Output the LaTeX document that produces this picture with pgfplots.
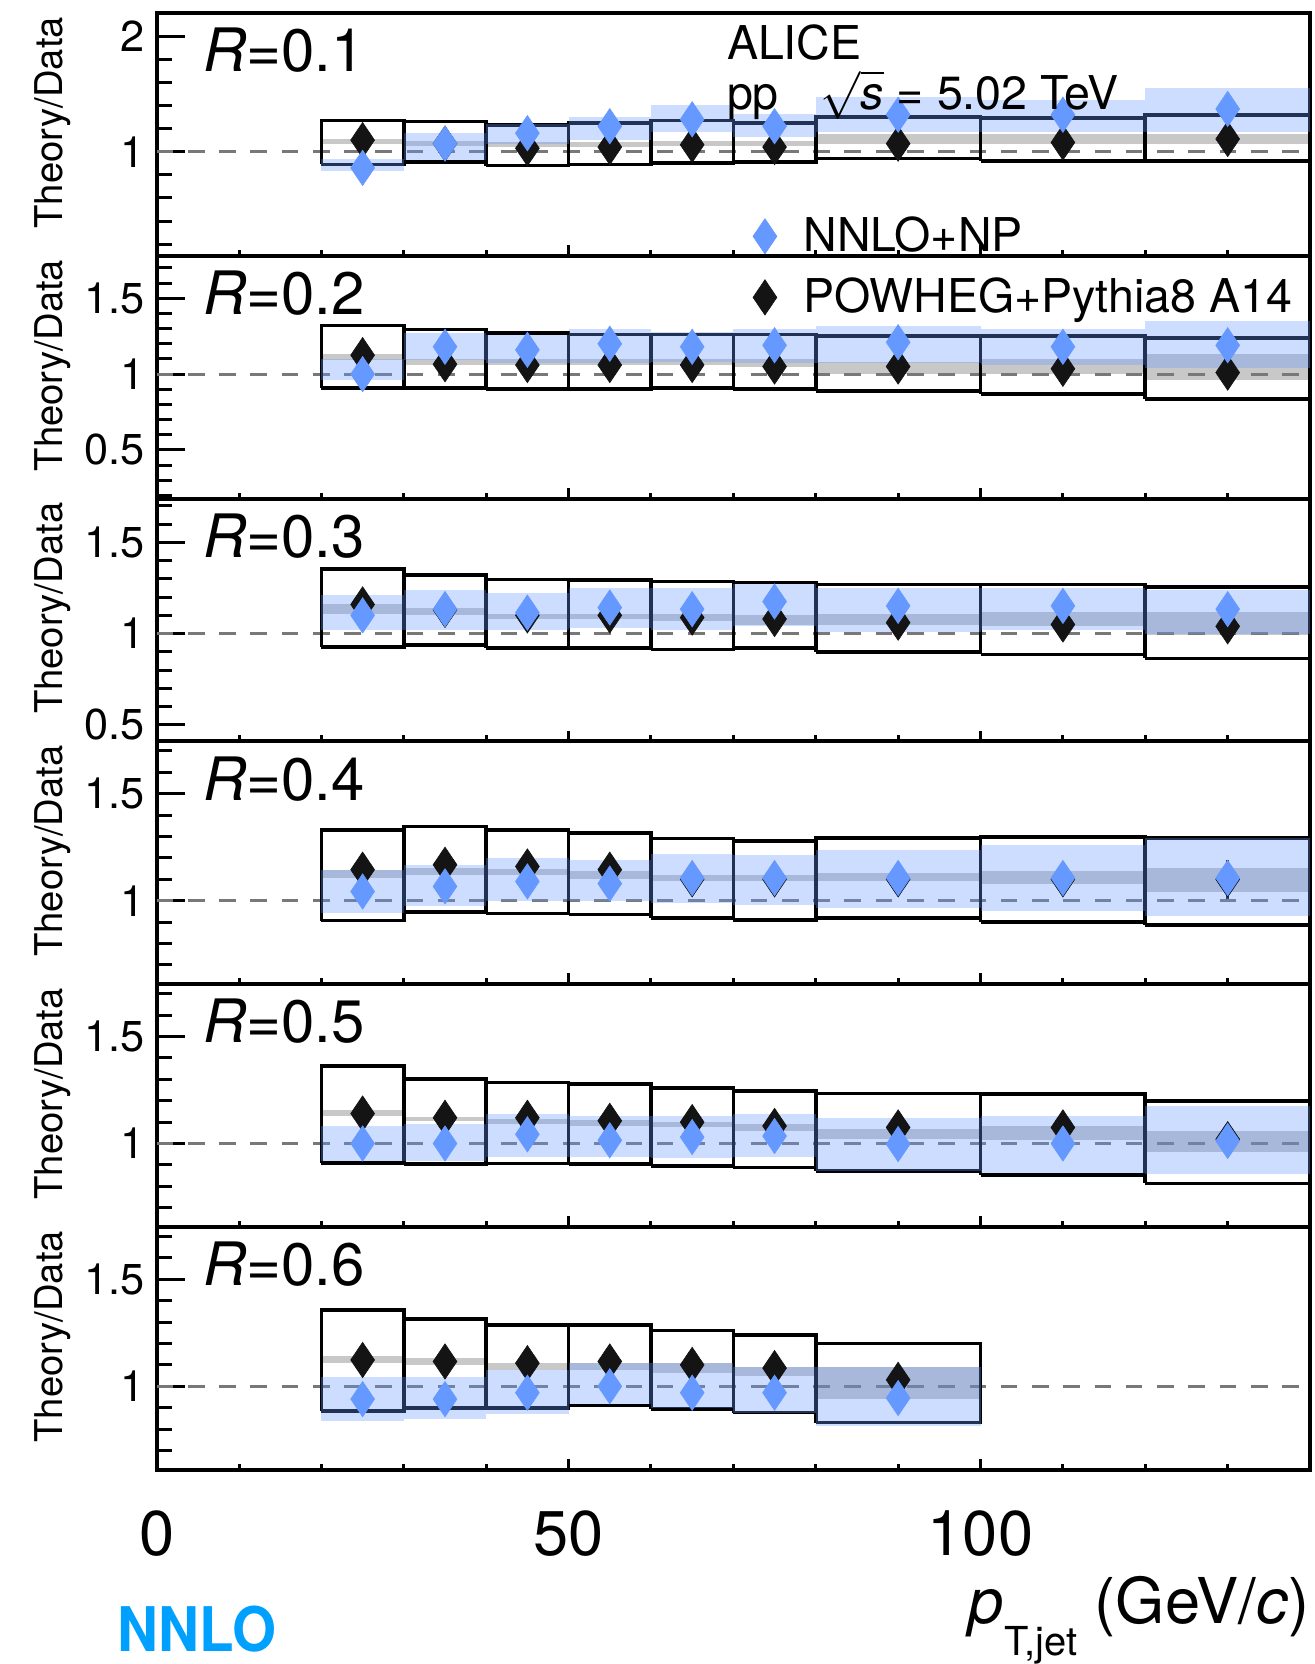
\documentclass[border=0pt]{standalone}
\usepackage{fontspec}
\setmainfont{TeX Gyre Heros}
\usepackage{pgfplots}
\pgfplotsset{compat=1.18}
\usepackage{pgfplotstable}
\definecolor{nnlo}{RGB}{102,153,255}
\definecolor{bandgray}{RGB}{200,200,200}
\definecolor{dashgray}{RGB}{120,120,120}
\definecolor{nnlotxt}{RGB}{0,160,255}
\definecolor{pwblack}{RGB}{20,20,20}

% points: bin centre, POWHEG+Pythia8/data, NNLO+NP/data
\pgfplotstableread{
xc pw nn
25 1.10 0.86
35 1.07 1.07
45 1.03 1.16
55 1.04 1.22
65 1.06 1.28
75 1.04 1.22
90 1.07 1.32
110 1.08 1.32
130 1.11 1.37
}\mA
\pgfplotstableread{
xc pw nn
25 1.125 1.00
35 1.065 1.18
45 1.06 1.16
55 1.06 1.20
65 1.06 1.18
75 1.05 1.19
90 1.05 1.21
110 1.035 1.18
130 1.01 1.19
}\mB
\pgfplotstableread{
xc pw nn
25 1.16 1.10
35 1.13 1.134
45 1.10 1.115
55 1.10 1.143
65 1.088 1.134
75 1.08 1.176
90 1.06 1.152
110 1.05 1.152
130 1.04 1.134
}\mC
\pgfplotstableread{
xc pw nn
25 1.145 1.043
35 1.168 1.067
45 1.16 1.09
55 1.145 1.08
65 1.10 1.106
75 1.10 1.106
90 1.10 1.106
110 1.10 1.106
130 1.10 1.106
}\mD
\pgfplotstableread{
xc pw nn
25 1.14 1.00
35 1.12 1.00
45 1.12 1.043
55 1.106 1.015
65 1.10 1.03
75 1.082 1.035
90 1.075 0.997
110 1.075 1.00
130 1.02 1.012
}\mE
\pgfplotstableread{
xc pw nn
25 1.123 0.94
35 1.116 0.94
45 1.108 0.97
55 1.116 1.00
65 1.10 0.97
75 1.085 0.97
90 1.03 0.945
}\mF

\pgfplotsset{
  panel/.style={
    scale only axis, width=346.8pt, height=73pt, anchor=south west,
    xmin=0, xmax=140,
    xtick={0,50,100}, minor xtick={10,20,30,40,60,70,80,90,110,120,130},
    xticklabels={},
    xtick pos=left, ytick pos=left, tick align=inside,
    major tick length=8.4pt, minor tick length=4.5pt,
    every major x tick/.append style={/pgfplots/major tick length=3.2pt},
    every minor x tick/.append style={/pgfplots/minor tick length=1.8pt},
    every tick/.append style={line width=0.9pt, black},
    axis line style={line width=1.2pt},
    yticklabel style={font=\fontsize{13}{13}\selectfont},
    /pgf/number format/assume math mode=true,
  },
  pwmark/.style={only marks, mark=diamond*, mark size=5.3pt,
    mark options={xscale=0.9, fill=pwblack, draw=pwblack, line width=0.2pt}},
  nnmark/.style={only marks, mark=diamond*, mark size=5.3pt,
    mark options={xscale=0.9, fill=nnlo, draw=nnlo, line width=0.2pt}},
}
% gray band (POWHEG), data uncertainty box, NNLO band: {xlo}{xhi}{ylo}{yhi}
\newcommand{\gb}[4]{\addplot[fill=bandgray, draw=none, forget plot] coordinates {(#1,#3) (#2,#3) (#2,#4) (#1,#4)};}
\newcommand{\db}[4]{\addplot[draw=black, line width=1.1pt, line join=miter, forget plot] coordinates {(#1,#3) (#2,#3) (#2,#4) (#1,#4) (#1,#3)};}
\newcommand{\nb}[4]{\addplot[fill=nnlo, fill opacity=0.33, draw=none, forget plot] coordinates {(#1,#3) (#2,#3) (#2,#4) (#1,#4)};}
\newcommand{\unity}{\addplot[dashgray, line width=0.9pt, dash pattern=on 5pt off 4.4pt, forget plot] coordinates {(0,1) (140,1)};}

\begin{document}
\begin{tikzpicture}
\path (0,0) rectangle (395.1pt,499.2pt);

% R = 0.1
\begin{axis}[panel, at={(47.1pt,422.3pt)}, ymin=0.1, ymax=2.2,
  ytick={1,2}, minor ytick={0.2,0.4,0.6,0.8,1.2,1.4,1.6,1.8},
  legend style={at={(axis description cs:0.5165,0.192)}, anchor=north west,
    draw=none, fill=none, inner sep=0pt, row sep=2.4pt,
    font=\fontsize{14}{16.8}\selectfont,
    /tikz/every odd column/.append style={column sep=6pt}},
  legend cell align=left]
\addlegendimage{nnmark}
\addlegendentry{NNLO+NP}
\addlegendimage{pwmark}
\addlegendentry{POWHEG+Pythia8 A14}
\gb{20}{30}{1.07}{1.11} \gb{30}{40}{1.05}{1.09} \gb{40}{50}{1.04}{1.08}
\gb{50}{60}{1.04}{1.08} \gb{60}{70}{1.05}{1.09} \gb{70}{80}{1.05}{1.09}
\gb{80}{100}{1.07}{1.15} \gb{100}{120}{1.07}{1.15} \gb{120}{140}{1.07}{1.15}
\unity
\db{20}{30}{0.89}{1.27} \db{30}{40}{0.91}{1.26} \db{40}{50}{0.88}{1.23}
\db{50}{60}{0.89}{1.25} \db{60}{70}{0.90}{1.27} \db{70}{80}{0.91}{1.25}
\db{80}{100}{0.94}{1.30} \db{100}{120}{0.92}{1.29} \db{120}{140}{0.92}{1.32}
\addplot[pwmark, forget plot] table[x=xc,y=pw]{\mA};
\nb{20}{30}{0.83}{0.94} \nb{30}{40}{0.93}{1.16} \nb{40}{50}{1.07}{1.24}
\nb{50}{60}{1.10}{1.30} \nb{60}{70}{1.17}{1.40} \nb{70}{80}{1.13}{1.33}
\nb{80}{100}{1.17}{1.47} \nb{100}{120}{1.17}{1.45} \nb{120}{140}{1.17}{1.55}
\addplot[nnmark, forget plot] table[x=xc,y=nn]{\mA};
\end{axis}

% R = 0.2
\begin{axis}[panel, at={(47.1pt,349.3pt)}, ymin=0.18, ymax=1.78,
  ytick={0.5,1,1.5}, minor ytick={0.2,0.3,0.4,0.6,0.7,0.8,0.9,1.1,1.2,1.3,1.4,1.6,1.7}]
\gb{20}{30}{1.09}{1.13} \gb{30}{40}{1.06}{1.10} \gb{40}{50}{1.06}{1.10}
\gb{50}{60}{1.06}{1.10} \gb{60}{70}{1.06}{1.10} \gb{70}{80}{1.05}{1.10}
\gb{80}{100}{1.00}{1.08} \gb{100}{120}{1.00}{1.10} \gb{120}{140}{0.96}{1.13}
\unity
\db{20}{30}{0.91}{1.32} \db{30}{40}{0.91}{1.295} \db{40}{50}{0.90}{1.27}
\db{50}{60}{0.90}{1.26} \db{60}{70}{0.91}{1.26} \db{70}{80}{0.90}{1.26}
\db{80}{100}{0.89}{1.25} \db{100}{120}{0.87}{1.25} \db{120}{140}{0.835}{1.24}
\addplot[pwmark, forget plot] table[x=xc,y=pw]{\mB};
\nb{20}{30}{0.96}{1.10} \nb{30}{40}{1.09}{1.27} \nb{40}{50}{1.07}{1.26}
\nb{50}{60}{1.07}{1.295} \nb{60}{70}{1.08}{1.28} \nb{70}{80}{1.07}{1.30}
\nb{80}{100}{1.07}{1.32} \nb{100}{120}{1.06}{1.30} \nb{120}{140}{1.04}{1.35}
\addplot[nnmark, forget plot] table[x=xc,y=nn]{\mB};
\end{axis}

% R = 0.3
\begin{axis}[panel, at={(47.1pt,276.3pt)}, ymin=0.41, ymax=1.74,
  ytick={0.5,1,1.5}, minor ytick={0.6,0.7,0.8,0.9,1.1,1.2,1.3,1.4,1.6,1.7}]
\gb{20}{30}{1.11}{1.16} \gb{30}{40}{1.10}{1.14} \gb{40}{50}{1.08}{1.11}
\gb{50}{60}{1.08}{1.11} \gb{60}{70}{1.07}{1.11} \gb{70}{80}{1.05}{1.10}
\gb{80}{100}{1.05}{1.11} \gb{100}{120}{1.04}{1.12} \gb{120}{140}{0.99}{1.12}
\unity
\db{20}{30}{0.927}{1.353} \db{30}{40}{0.938}{1.32} \db{40}{50}{0.92}{1.297}
\db{50}{60}{0.92}{1.295} \db{60}{70}{0.914}{1.286} \db{70}{80}{0.92}{1.28}
\db{80}{100}{0.90}{1.27} \db{100}{120}{0.886}{1.27} \db{120}{140}{0.864}{1.256}
\addplot[pwmark, forget plot] table[x=xc,y=pw]{\mC};
\nb{20}{30}{1.02}{1.21} \nb{30}{40}{1.02}{1.24} \nb{40}{50}{1.02}{1.225}
\nb{50}{60}{1.03}{1.25} \nb{60}{70}{1.02}{1.25} \nb{70}{80}{1.04}{1.27}
\nb{80}{100}{1.01}{1.25} \nb{100}{120}{1.02}{1.25} \nb{120}{140}{1.00}{1.24}
\addplot[nnmark, forget plot] table[x=xc,y=nn]{\mC};
\end{axis}

% R = 0.4
\begin{axis}[panel, at={(47.1pt,203.3pt)}, ymin=0.61, ymax=1.745,
  ytick={1,1.5}, minor ytick={0.7,0.8,0.9,1.1,1.2,1.3,1.4,1.6,1.7}]
\gb{20}{30}{1.107}{1.145} \gb{30}{40}{1.12}{1.155} \gb{40}{50}{1.12}{1.15}
\gb{50}{60}{1.10}{1.14} \gb{60}{70}{1.09}{1.12} \gb{70}{80}{1.09}{1.12}
\gb{80}{100}{1.09}{1.13} \gb{100}{120}{1.08}{1.14} \gb{120}{140}{1.043}{1.152}
\unity
\db{20}{30}{0.907}{1.33} \db{30}{40}{0.947}{1.347} \db{40}{50}{0.94}{1.33}
\db{50}{60}{0.935}{1.316} \db{60}{70}{0.92}{1.29} \db{70}{80}{0.91}{1.28}
\db{80}{100}{0.92}{1.293} \db{100}{120}{0.90}{1.297} \db{120}{140}{0.885}{1.293}
\addplot[pwmark, forget plot] table[x=xc,y=pw]{\mD};
\addplot[pwblack, line width=0.9pt, forget plot] coordinates {(130,1.01) (130,1.19)};
\nb{20}{30}{0.943}{1.145} \nb{30}{40}{0.973}{1.168} \nb{40}{50}{0.997}{1.20}
\nb{50}{60}{1.00}{1.19} \nb{60}{70}{0.99}{1.22} \nb{70}{80}{0.98}{1.213}
\nb{80}{100}{0.965}{1.236} \nb{100}{120}{0.95}{1.26} \nb{120}{140}{0.927}{1.291}
\addplot[nnmark, forget plot] table[x=xc,y=nn]{\mD};
\end{axis}

% R = 0.5
\begin{axis}[panel, at={(47.1pt,130.3pt)}, ymin=0.61, ymax=1.745,
  ytick={1,1.5}, minor ytick={0.7,0.8,0.9,1.1,1.2,1.3,1.4,1.6,1.7}]
\gb{20}{30}{1.13}{1.155} \gb{30}{40}{1.105}{1.125} \gb{40}{50}{1.09}{1.115}
\gb{50}{60}{1.08}{1.11} \gb{60}{70}{1.075}{1.10} \gb{70}{80}{1.06}{1.09}
\gb{80}{100}{1.02}{1.07} \gb{100}{120}{1.015}{1.08} \gb{120}{140}{0.96}{1.06}
\unity
\db{20}{30}{0.91}{1.363} \db{30}{40}{0.903}{1.30} \db{40}{50}{0.907}{1.285}
\db{50}{60}{0.903}{1.277} \db{60}{70}{0.895}{1.26} \db{70}{80}{0.888}{1.246}
\db{80}{100}{0.872}{1.234} \db{100}{120}{0.853}{1.23} \db{120}{140}{0.813}{1.20}
\addplot[pwmark, forget plot] table[x=xc,y=pw]{\mE};
\nb{20}{30}{0.92}{1.08} \nb{30}{40}{0.92}{1.09} \nb{40}{50}{0.935}{1.137}
\nb{50}{60}{0.935}{1.13} \nb{60}{70}{0.93}{1.13} \nb{70}{80}{0.935}{1.137}
\nb{80}{100}{0.872}{1.12} \nb{100}{120}{0.86}{1.13} \nb{120}{140}{0.857}{1.176}
\addplot[nnmark, forget plot] table[x=xc,y=nn]{\mE};
\end{axis}

% R = 0.6
\begin{axis}[panel, at={(47.1pt,57.3pt)}, ymin=0.61, ymax=1.745,
  ytick={1,1.5}, minor ytick={0.7,0.8,0.9,1.1,1.2,1.3,1.4,1.6,1.7},
  xticklabels={0,50,100},
  xticklabel style={font=\fontsize{19}{19}\selectfont, yshift=-8.7pt}]
\gb{20}{30}{1.11}{1.14} \gb{30}{40}{1.10}{1.13} \gb{40}{50}{1.075}{1.11}
\gb{50}{60}{1.075}{1.108} \gb{60}{70}{1.06}{1.108} \gb{70}{80}{1.05}{1.09}
\gb{80}{100}{0.94}{1.09}
\unity
\db{20}{30}{0.884}{1.358} \db{30}{40}{0.90}{1.316} \db{40}{50}{0.90}{1.286}
\db{50}{60}{0.91}{1.286} \db{60}{70}{0.895}{1.26} \db{70}{80}{0.877}{1.24}
\db{80}{100}{0.83}{1.20}
\addplot[pwmark, forget plot] table[x=xc,y=pw]{\mF};
\nb{20}{30}{0.838}{1.043} \nb{30}{40}{0.845}{1.043} \nb{40}{50}{0.87}{1.074}
\nb{50}{60}{0.915}{1.108} \nb{60}{70}{0.90}{1.108} \nb{70}{80}{0.877}{1.09}
\nb{80}{100}{0.815}{1.09}
\addplot[nnmark, forget plot] table[x=xc,y=nn]{\mF};
\end{axis}

% panel labels
\foreach \yy/\rr in {477.6/0.1, 404.6/0.2, 331.6/0.3, 258.6/0.4, 185.6/0.5, 112.6/0.6}
  \node[anchor=base west, inner sep=0pt, font=\fontsize{18}{18}\selectfont] at (60.9pt,\yy pt) {\textit{R}=\rr};
% y labels
\foreach \yy in {462.3, 389.3, 316.3, 243.3, 170.3, 97.3}
  \node[rotate=90, anchor=base, inner sep=0pt, font=\fontsize{11.5}{11.5}\selectfont] at (18.9pt,\yy pt) {Theory/Data};

\node[anchor=base west, inner sep=0pt, font=\fontsize{14}{14}\selectfont] at (218.4pt,481.2pt) {ALICE};
\node[anchor=base west, inner sep=0pt, font=\fontsize{14}{14}\selectfont] at (218.4pt,466.2pt) {pp\hspace{0.9em}$\sqrt{\textit{s}}$ = 5.02 TeV};

\node[anchor=base east, inner sep=0pt, font=\fontsize{19}{19}\selectfont] at (393.9pt,11.0pt)
  {\textit{p}\raisebox{-9.5pt}{\fontsize{12}{12}\selectfont T,jet} (GeV/\textit{c})};
\node[anchor=base west, inner sep=0pt, font=\fontsize{18.5}{18.5}\selectfont\bfseries, text=nnlotxt] at (35.1pt,2.6pt) {\scalebox{0.92}[1]{NNLO}};
\end{tikzpicture}
\end{document}
